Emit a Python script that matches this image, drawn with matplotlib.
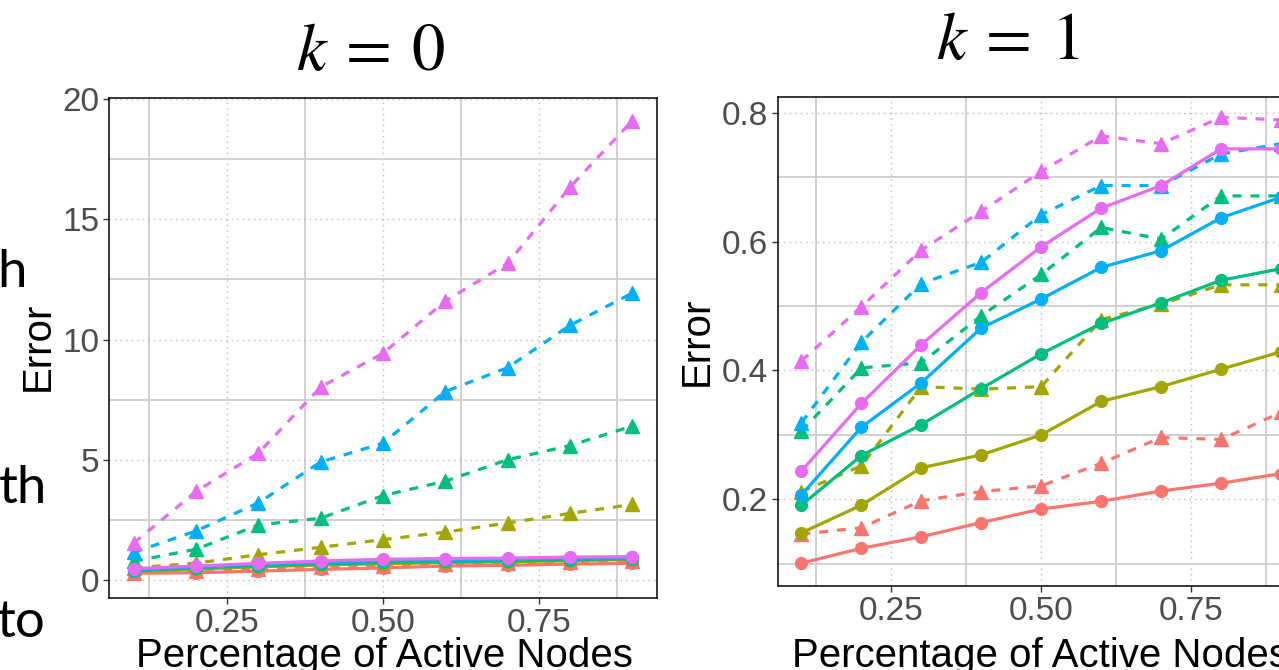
import matplotlib
matplotlib.use("Agg")
import matplotlib.pyplot as plt
from matplotlib.ticker import FixedLocator

plt.rcParams["font.family"] = "Liberation Sans"
plt.rcParams["mathtext.fontset"] = "stix"

pct = [0.1, 0.2, 0.3, 0.4, 0.5, 0.6, 0.7, 0.8, 0.9]
colors = ["#F8766D", "#A3A500", "#00BF7D", "#00B0F6", "#E76BF3"]

# k = 0, solid lines (circles), order: red, olive, green, blue, pink
k0_red = [0.28, 0.30, 0.37, 0.44, 0.50, 0.58, 0.61, 0.66, 0.69]
k0_olive = [0.36, 0.45, 0.55, 0.62, 0.68, 0.72, 0.76, 0.80, 0.86]
k0_green = [0.39, 0.50, 0.60, 0.67, 0.73, 0.77, 0.80, 0.85, 0.89]
k0_blue = [0.42, 0.54, 0.65, 0.73, 0.80, 0.84, 0.87, 0.92, 0.95]
k0_pink = [0.47, 0.58, 0.69, 0.79, 0.86, 0.89, 0.91, 0.95, 0.97]
# k = 0, dashed lines (triangles)
k0_red_d = [0.30, 0.38, 0.45, 0.52, 0.58, 0.65, 0.70, 0.75, 0.80]
k0_olive_d = [0.50, 0.70, 1.05, 1.36, 1.68, 1.99, 2.37, 2.77, 3.14]
k0_green_d = [0.78, 1.28, 2.29, 2.57, 3.51, 4.11, 5.00, 5.59, 6.40]
k0_blue_d = [1.15, 2.04, 3.21, 4.91, 5.69, 7.84, 8.83, 10.59, 11.93]
k0_pink_d = [1.54, 3.69, 5.28, 8.03, 9.43, 11.60, 13.17, 16.33, 19.10]

# k = 1, solid lines (circles)
k1_red = [0.101, 0.124, 0.142, 0.164, 0.185, 0.197, 0.213, 0.225, 0.240]
k1_olive = [0.148, 0.191, 0.249, 0.269, 0.300, 0.352, 0.375, 0.402, 0.429]
k1_green = [0.191, 0.268, 0.316, 0.372, 0.426, 0.473, 0.505, 0.540, 0.558]
k1_blue = [0.207, 0.312, 0.381, 0.466, 0.511, 0.560, 0.586, 0.637, 0.669]
k1_pink = [0.244, 0.349, 0.440, 0.521, 0.592, 0.652, 0.687, 0.744, 0.744]
# k = 1, dashed lines (triangles)
k1_red_d = [0.146, 0.156, 0.198, 0.212, 0.221, 0.256, 0.296, 0.293, 0.335]
k1_olive_d = [0.212, 0.252, 0.375, 0.371, 0.375, 0.479, 0.503, 0.533, 0.533]
k1_green_d = [0.306, 0.404, 0.412, 0.485, 0.549, 0.622, 0.604, 0.671, 0.671]
k1_blue_d = [0.319, 0.444, 0.535, 0.568, 0.642, 0.687, 0.687, 0.736, 0.752]
k1_pink_d = [0.415, 0.499, 0.587, 0.647, 0.709, 0.764, 0.752, 0.793, 0.789]

x_major = [0.25, 0.50, 0.75]
x_minor = [0.125, 0.375, 0.625, 0.875]


def draw(ax, solid, dashed, ymajor, yminor, ylabels, ylim):
    for c, ys in zip(colors, dashed):
        ax.plot(pct, ys, color=c, lw=2.3, ls=(0, (2.8, 2.8)), marker="^", ms=9.5)
    for c, ys in zip(colors, solid):
        ax.plot(pct, ys, color=c, lw=2.3, marker="o", ms=8.5)
    ax.set_xlim(0.06, 0.94)
    ax.set_ylim(*ylim)
    ax.set_xticks(x_major)
    ax.set_xticklabels(["0.25", "0.50", "0.75"])
    ax.xaxis.set_minor_locator(FixedLocator(x_minor))
    ax.set_yticks(ymajor)
    ax.set_yticklabels(ylabels)
    ax.yaxis.set_minor_locator(FixedLocator(yminor))
    ax.grid(which="minor", color="#D0D0D0", lw=1.4, ls="-")
    ax.grid(which="major", color="#BBBBBB", lw=1.0, ls=(0, (1, 3)))
    ax.tick_params(which="major", length=4, width=1, color="#333333",
                   labelsize=24, labelcolor="#4D4D4D", pad=3)
    ax.tick_params(which="minor", length=0)
    for s in ax.spines.values():
        s.set_color("black")
        s.set_linewidth(1.1)


fig = plt.figure(figsize=(12.79, 6.70), dpi=100)

ax0 = fig.add_axes([109 / 1279, 1 - 598 / 670, 548 / 1279, 500 / 670])
draw(ax0, [k0_red, k0_olive, k0_green, k0_blue, k0_pink],
     [k0_red_d, k0_olive_d, k0_green_d, k0_blue_d, k0_pink_d],
     [0, 5, 10, 15, 20], [2.5, 7.5, 12.5, 17.5],
     ["0", "5", "10", "15", "20"], (-0.75, 20.05))

ax1 = fig.add_axes([777.5 / 1279, 1 - 586 / 670, 527.5 / 1279, 489 / 670])
draw(ax1, [k1_red, k1_olive, k1_green, k1_blue, k1_pink],
     [k1_red_d, k1_olive_d, k1_green_d, k1_blue_d, k1_pink_d],
     [0.2, 0.4, 0.6, 0.8], [0.1, 0.3, 0.5, 0.7],
     ["0.2", "0.4", "0.6", "0.8"], (0.0655, 0.8245))

# titles
fig.text(371 / 1279, 1 - 70 / 670, r"$k\:=\:0$", fontsize=48, ha="center", va="baseline")
fig.text(1008 / 1279, 1 - 59 / 670, r"$k\:=\:1$", fontsize=48, ha="center", va="baseline")

# axis titles
fig.text(38 / 1279, 1 - 346 / 670, "Error", fontsize=29, rotation=90, ha="center", va="center")
fig.text(697 / 1279, 1 - 341 / 670, "Error", fontsize=29, rotation=90, ha="center", va="center")
fig.text(384 / 1279, 1 - 667 / 670, "Percentage of Active Nodes", fontsize=29, ha="center", va="baseline")
fig.text(1041 / 1279, 1 - 667 / 670, "Percentage of Active Nodes", fontsize=29, ha="center", va="baseline")

# fragments of neighbouring text cut by the crop
fig.text(27 / 1279, 1 - 287 / 670, "h", fontsize=38, ha="right", va="baseline", family="Lato")
fig.text(47 / 1279, 1 - 503 / 670, "th", fontsize=38, ha="right", va="baseline", family="Lato")
fig.text(46 / 1279, 1 - 637 / 670, "to", fontsize=38, ha="right", va="baseline", family="Lato")

fig.savefig("out.png", dpi=100)
